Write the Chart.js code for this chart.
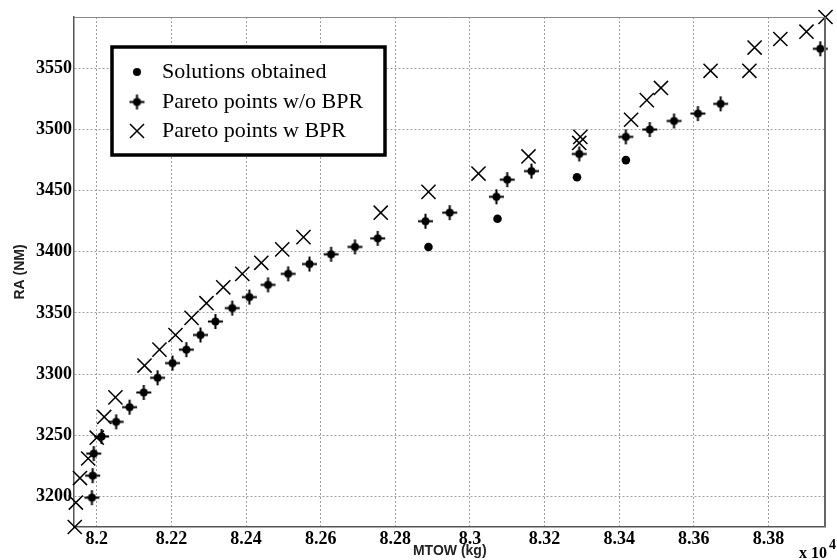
<!DOCTYPE html>
<html lang="en">
<head>
  <meta charset="UTF-8" />
  <title>RA vs MTOW</title>
  <script src="https://cdn.jsdelivr.net/npm/chart.js@4.4.0/dist/chart.umd.min.js"></script>
  <style>
    html, body { margin:0; padding:0; background:#fff; }
    #wrap { width:837px; height:560px; }
  </style>
</head>
<body>
<div id="wrap"><canvas id="chart"></canvas></div>

<script>
  // ── data (MTOW in kg, RA in NM) ─────────────────────────────
  const solX = [82889, 83074, 83287, 83418];
  const solY = [3404, 3427, 3461, 3475];

  const woX = [81987, 81989, 81992, 82013, 82052, 82088, 82126, 82163, 82203, 82240,
               82278, 82318, 82363, 82409, 82459, 82513, 82570, 82628, 82692, 82753,
               82881, 82946, 83071, 83100, 83165, 83293, 83418, 83482, 83547, 83611,
               83672, 83939];
  const woY = [3199, 3217, 3235, 3249, 3261, 3273, 3285, 3297, 3309, 3320,
               3332, 3343, 3354, 3363, 3373, 3382, 3390, 3398, 3404, 3411,
               3425, 3432, 3445, 3459, 3466, 3480, 3494, 3500, 3507, 3513,
               3521, 3566];

  const wX = [81941, 81944, 81955, 81977, 82000, 82020, 82050, 82128, 82168, 82211,
              82254, 82294, 82339, 82390, 82441, 82497, 82554, 82761, 82889, 83023,
              83157, 83293, 83296, 83432, 83474, 83512, 83645, 83749, 83763, 83832,
              83902, 83953];
  const wY = [3175, 3195, 3215, 3231, 3248, 3265, 3281, 3307, 3320, 3332,
              3346, 3358, 3371, 3382, 3391, 3402, 3412, 3432, 3449, 3464,
              3478, 3489, 3494, 3508, 3524, 3534, 3548, 3548, 3567, 3574,
              3580, 3592];

  const xTickValues = [82000, 82200, 82400, 82600, 82800, 83000, 83200, 83400, 83600, 83800];
  const xTickLabels = ['8.2', '8.22', '8.24', '8.26', '8.28', '8.3', '8.32', '8.34', '8.36', '8.38'];
  const yTickValues = [3200, 3250, 3300, 3350, 3400, 3450, 3500, 3550];

  const seriesNames = ['Solutions obtained', 'Pareto points w/o BPR', 'Pareto points w BPR'];

  const pts = (xs, ys) => xs.map((x, i) => ({ x: x, y: ys[i] }));

  // plus with a dot in the middle
  function plusDot() {
    const c = document.createElement('canvas');
    c.width = 17; c.height = 17;
    const g = c.getContext('2d');
    g.strokeStyle = '#000'; g.fillStyle = '#000'; g.lineWidth = 2;
    g.beginPath();
    g.moveTo(1, 8.5); g.lineTo(16, 8.5);
    g.moveTo(8.5, 1); g.lineTo(8.5, 16);
    g.stroke();
    g.beginPath(); g.arc(8.5, 8.5, 4, 0, 2 * Math.PI); g.fill();
    return c;
  }
  const plusImg = plusDot();

  const serif = '"Liberation Serif", "Times New Roman", serif';
  const sans = '"Liberation Sans", Arial, sans-serif';

  // ── frame, legend box and x 10^4 ────────────────────────────
  const extras = {
    id: 'extras',
    afterDatasetsDraw(chart) {
      const { ctx, chartArea: a } = chart;
      ctx.save();
      // top / right border
      ctx.strokeStyle = '#8a8a8a'; ctx.lineWidth = 1;
      ctx.beginPath();
      ctx.moveTo(a.left, a.top + 0.5); ctx.lineTo(a.right - 0.5, a.top + 0.5);
      ctx.stroke();
      ctx.strokeStyle = '#666'; ctx.lineWidth = 2;
      ctx.beginPath();
      ctx.moveTo(a.right - 0.5, a.top); ctx.lineTo(a.right - 0.5, a.bottom);
      ctx.stroke();

      // legend
      const bx = 112, by = 47, bw = 273, bh = 108;
      ctx.fillStyle = '#fff';
      ctx.fillRect(bx, by, bw, bh);
      ctx.strokeStyle = '#000'; ctx.lineWidth = 3.5;
      ctx.strokeRect(bx, by, bw, bh);
      const mx = 137, rows = [72, 102, 131];
      ctx.fillStyle = '#000';
      ctx.beginPath(); ctx.arc(mx, rows[0], 4, 0, 2 * Math.PI); ctx.fill();
      ctx.drawImage(plusImg, mx - 8.5, rows[1] - 8.5);
      ctx.lineWidth = 1.5;
      ctx.beginPath();
      ctx.moveTo(mx - 7, rows[2] - 7); ctx.lineTo(mx + 7, rows[2] + 7);
      ctx.moveTo(mx + 7, rows[2] - 7); ctx.lineTo(mx - 7, rows[2] + 7);
      ctx.stroke();
      ctx.font = '22px ' + serif;
      ctx.textBaseline = 'middle'; ctx.textAlign = 'left';
      seriesNames.forEach((s, i) => ctx.fillText(s, 162, rows[i]));

      // exponent
      ctx.font = 'bold 16px ' + serif;
      ctx.textBaseline = 'alphabetic'; ctx.textAlign = 'right';
      ctx.fillText('x 10', 827, 558);
      ctx.textAlign = 'left';
      ctx.font = 'bold 14px ' + serif;
      ctx.fillText('4', 829, 549);
      ctx.restore();
    }
  };

  const gridStyle = {
    color: '#a0a0a0',
    lineWidth: 1,
    drawTicks: false
  };

  const chart = new Chart(document.getElementById('chart'), {
    type: 'scatter',
    data: {
      datasets: [
        { label: seriesNames[1], data: pts(woX, woY), pointStyle: plusImg, clip: false },
        { label: seriesNames[2], data: pts(wX, wY), pointStyle: 'crossRot', pointRadius: 10,
          borderColor: '#000', borderWidth: 1.5, clip: false },
        { label: seriesNames[0], data: pts(solX, solY), pointStyle: 'circle', pointRadius: 4.3,
          backgroundColor: '#000', borderColor: '#000', borderWidth: 0, clip: false }
      ]
    },
    options: {
      responsive: true,
      maintainAspectRatio: false,
      animation: false,
      layout: { padding: { top: 17, right: 10, left: 0, bottom: 0 } },
      plugins: { legend: { display: false }, tooltip: { enabled: false } },
      scales: {
        x: {
          type: 'linear',
          min: 81939, max: 83953,
          afterBuildTicks: s => { s.ticks = xTickValues.map(v => ({ value: v })); },
          afterFit: s => { s.height = 33; },
          ticks: {
            padding: 2, color: '#000', autoSkip: false, maxRotation: 0,
            font: { family: serif, size: 18, weight: 'bold' },
            callback: (v, i) => xTickLabels[i]
          },
          grid: { ...gridStyle },
          border: { display: true, color: '#555', width: 1.5, dash: [2, 2] },
          title: {
            display: true, text: 'MTOW (kg)', color: '#222',
            padding: { top: 0, bottom: 0 },
            font: { family: sans, size: 14, weight: 'bold' }
          }
        },
        y: {
          type: 'linear',
          min: 3175, max: 3592,
          afterBuildTicks: s => { s.ticks = yTickValues.map(v => ({ value: v })); },
          afterFit: s => { s.width = 74; },
          ticks: {
            padding: 2, color: '#000', autoSkip: false,
            font: { family: serif, size: 18, weight: 'bold' },
            callback: v => String(v)
          },
          grid: { ...gridStyle },
          border: { display: true, color: '#555', width: 1.5, dash: [2, 2] },
          title: {
            display: true, text: 'RA (NM)', color: '#222',
            padding: { top: 12, bottom: 0 },
            font: { family: sans, size: 14, weight: 'bold' }
          }
        }
      }
    },
    plugins: [extras]
  });
</script>
</body>
</html>
